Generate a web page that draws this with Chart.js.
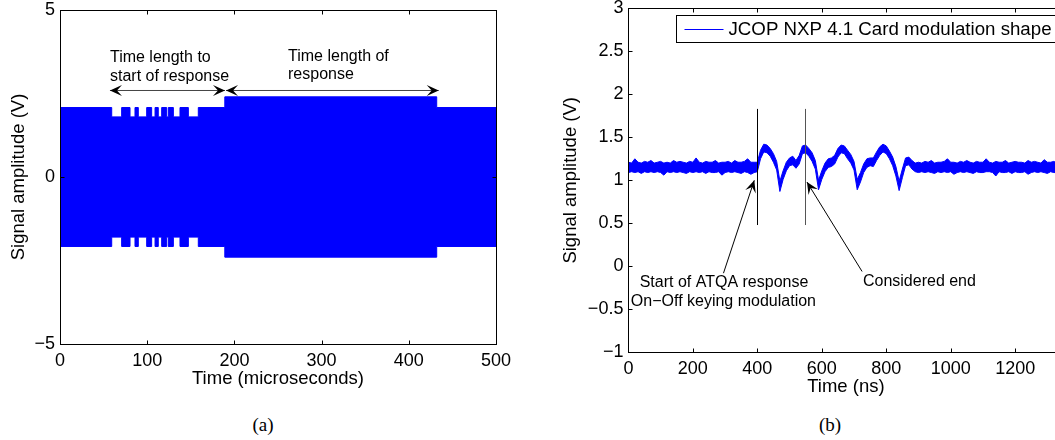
<!DOCTYPE html>
<html>
<head>
<meta charset="utf-8">
<script src="https://cdn.jsdelivr.net/npm/chart.js@4.4.1/dist/chart.umd.min.js"></script>
<style>
html, body { margin: 0; padding: 0; background: #fff; overflow: hidden; width: 1055px; height: 440px; }
#wrapA { position: absolute; left: 0; top: 0; width: 520px; height: 400px; }
#wrapB { position: absolute; left: 520px; top: 0; width: 560px; height: 400px; }
.caption { position: absolute; top: 414px; width: 60px; text-align: center;
           font-family: "Liberation Serif", "Times New Roman", serif; font-size: 19px; color: #000; }
</style>
</head>
<body>
<div id="wrapA"><canvas id="chartA"></canvas></div>
<div id="wrapB"><canvas id="chartB"></canvas></div>
<div class="caption" style="left:233px">(a)</div>
<div class="caption" style="left:800px">(b)</div>

<script>
const FONT = '"Liberation Sans", Arial, Helvetica, sans-serif';
Chart.defaults.font.family = FONT;
Chart.defaults.color = '#000';

// (a) envelope of the carrier, time in microseconds, amplitude in volts
const edgeTimesUs = [0, 59.3, 70.7, 80.3, 86, 89.8, 99.4, 105.1, 109, 112.7, 116.6, 122.3, 124.2, 130, 137.6, 147.2, 158.6, 189, 432, 500];
const upperEnvV   = [2.08, 1.8, 2.08, 1.8, 2.08, 1.8, 2.08, 1.8, 2.08, 1.8, 2.08, 1.8, 2.08, 1.8, 2.08, 1.8, 2.08, 2.4, 2.08, 2.08];
const lowerEnvV   = [-2.08, -1.8, -2.08, -1.8, -2.08, -1.8, -2.08, -1.8, -2.08, -1.8, -2.08, -1.8, -2.08, -1.8, -2.08, -1.8, -2.08, -2.4, -2.08, -2.08];
const xTicksA = [0, 100, 200, 300, 400, 500];
const yTicksA = [-5, 0, 5];

// (b) card modulation trace (min / max of the noisy trace), time in ns
const timeNs = [
  0, 10, 20, 30, 40, 50, 60, 70, 80, 90,
  100, 110, 120, 130, 140, 150, 160, 170, 180, 190,
  200, 210, 220, 230, 240, 250, 260, 270, 280, 290,
  300, 310, 320, 330, 340, 350, 360, 370, 380, 390,
  400, 410, 420, 430, 440, 450, 460, 470, 480, 490,
  500, 510, 520, 530, 540, 550, 560, 570, 580, 590,
  600, 610, 620, 630, 640, 650, 660, 670, 680, 690,
  700, 710, 720, 730, 740, 750, 760, 770, 780, 790,
  800, 810, 820, 830, 840, 850, 860, 870, 880, 890,
  900, 910, 920, 930, 940, 950, 960, 970, 980, 990,
  1000, 1010, 1020, 1030, 1040, 1050, 1060, 1070, 1080, 1090,
  1100, 1110, 1120, 1130, 1140, 1150, 1160, 1170, 1180, 1190,
  1200, 1210, 1220, 1230, 1240, 1250, 1260, 1270, 1280, 1290,
  1300, 1310, 1320, 1330, 1340, 1350
];
const traceUpperV = [
  1.21, 1.20, 1.25, 1.21, 1.20, 1.22, 1.21, 1.23, 1.20, 1.21,
  1.22, 1.20, 1.21, 1.20, 1.23, 1.21, 1.22, 1.21, 1.20, 1.22,
  1.21, 1.26, 1.21, 1.20, 1.22, 1.21, 1.21, 1.23, 1.20, 1.21,
  1.21, 1.22, 1.20, 1.23, 1.21, 1.21, 1.22, 1.25, 1.21, 1.21,
  1.21, 1.35, 1.42, 1.41, 1.37, 1.31, 1.22, 0.99, 1.11, 1.21,
  1.26, 1.28, 1.23, 1.29, 1.40, 1.41, 1.37, 1.32, 1.23, 1.00,
  1.11, 1.20, 1.25, 1.26, 1.29, 1.37, 1.41, 1.40, 1.35, 1.30,
  1.22, 1.01, 1.09, 1.19, 1.25, 1.26, 1.26, 1.33, 1.39, 1.42,
  1.40, 1.34, 1.27, 1.16, 0.99, 1.13, 1.26, 1.27, 1.23, 1.20,
  1.21, 1.20, 1.22, 1.21, 1.23, 1.20, 1.21, 1.21, 1.22, 1.25,
  1.21, 1.21, 1.20, 1.22, 1.21, 1.23, 1.21, 1.20, 1.22, 1.21,
  1.21, 1.25, 1.21, 1.20, 1.22, 1.21, 1.21, 1.23, 1.20, 1.21,
  1.22, 1.21, 1.21, 1.20, 1.23, 1.21, 1.22, 1.21, 1.20, 1.24,
  1.21, 1.21, 1.22, 1.20, 1.21, 1.21
];
const traceLowerV = [
  1.09, 1.10, 1.09, 1.10, 1.08, 1.10, 1.09, 1.10, 1.09, 1.10,
  1.09, 1.06, 1.10, 1.09, 1.10, 1.09, 1.10, 1.09, 1.08, 1.10,
  1.09, 1.10, 1.09, 1.10, 1.08, 1.10, 1.09, 1.09, 1.10, 1.06,
  1.09, 1.10, 1.09, 1.10, 1.09, 1.08, 1.10, 1.09, 1.07, 1.09,
  1.10, 1.25, 1.33, 1.32, 1.28, 1.21, 1.12, 0.87, 1.01, 1.11,
  1.17, 1.18, 1.14, 1.19, 1.31, 1.32, 1.28, 1.22, 1.13, 0.89,
  1.01, 1.10, 1.15, 1.16, 1.19, 1.27, 1.32, 1.31, 1.25, 1.20,
  1.12, 0.89, 0.98, 1.09, 1.15, 1.17, 1.16, 1.23, 1.29, 1.33,
  1.31, 1.25, 1.17, 1.05, 0.88, 1.03, 1.17, 1.18, 1.13, 1.10,
  1.09, 1.10, 1.09, 1.10, 1.09, 1.08, 1.10, 1.09, 1.10, 1.09,
  1.10, 1.07, 1.09, 1.10, 1.09, 1.10, 1.09, 1.08, 1.10, 1.09,
  1.09, 1.10, 1.10, 1.09, 1.05, 1.10, 1.09, 1.09, 1.10, 1.08,
  1.10, 1.09, 1.09, 1.10, 1.07, 1.09, 1.10, 1.09, 1.10, 1.09,
  1.08, 1.10, 1.09, 1.09, 1.10, 1.09
];
const xTicksB = [0, 200, 400, 600, 800, 1000, 1200];
const yTicksB = [-1, -0.5, 0, 0.5, 1, 1.5, 2, 2.5, 3];

const BLUE = '#0000ff';

// matlab style minus sign
function fmt(v) {
    return v < 0 ? '\u2212' + Math.abs(v) : String(v);
}

function toPoints(xs, ys) {
    return xs.map((x, i) => ({ x: x, y: ys[i] }));
}

// box around the axes with inward tick marks on all four sides
const matlabBox = {
    id: 'matlabBox',
    afterDatasetsDraw(chart) {
        const { ctx, chartArea: a, scales: { x, y } } = chart;
        const L = Math.round(a.left) + 0.5, R = Math.round(a.right) + 0.5;
        const T = Math.round(a.top) + 0.5, B = Math.round(a.bottom) + 0.5;
        ctx.save();
        ctx.strokeStyle = '#000';
        ctx.lineWidth = 1;
        ctx.strokeRect(L, T, R - L, B - T);
        ctx.beginPath();
        x.ticks.forEach(t => {
            const px = Math.round(x.getPixelForValue(t.value)) + 0.5;
            ctx.moveTo(px, B); ctx.lineTo(px, B - 4);
            ctx.moveTo(px, T); ctx.lineTo(px, T + 4);
        });
        y.ticks.forEach(t => {
            const py = Math.round(y.getPixelForValue(t.value)) + 0.5;
            ctx.moveTo(L, py); ctx.lineTo(L + 4, py);
            ctx.moveTo(R, py); ctx.lineTo(R - 4, py);
        });
        ctx.stroke();
        ctx.restore();
    }
};

function arrowHead(ctx, fx, fy, tx, ty) {
    const ang = Math.atan2(ty - fy, tx - fx);
    ctx.save();
    ctx.translate(tx, ty);
    ctx.rotate(ang);
    ctx.beginPath();
    ctx.moveTo(0, 0);
    ctx.lineTo(-12, -5.5);
    ctx.lineTo(-7, 0);
    ctx.lineTo(-12, 5.5);
    ctx.closePath();
    ctx.fill();
    ctx.restore();
}

// text labels, arrows and marker lines given in data coordinates
const notes = {
    id: 'notes',
    afterDraw(chart, args, opts) {
        const { ctx, scales: { x, y } } = chart;
        ctx.save();
        ctx.fillStyle = '#000';
        (opts.vlines || []).forEach(v => {
            const px = Math.round(x.getPixelForValue(v.x)) + 0.5;
            ctx.strokeStyle = v.color;
            ctx.lineWidth = 1;
            ctx.beginPath();
            ctx.moveTo(px, y.getPixelForValue(v.y1));
            ctx.lineTo(px, y.getPixelForValue(v.y2));
            ctx.stroke();
        });
        (opts.arrows || []).forEach(a => {
            const x1 = x.getPixelForValue(a.x1), y1 = y.getPixelForValue(a.y1);
            const x2 = x.getPixelForValue(a.x2), y2 = y.getPixelForValue(a.y2);
            ctx.strokeStyle = a.color || '#000';
            ctx.lineWidth = 1;
            ctx.beginPath();
            ctx.moveTo(x1, y1);
            ctx.lineTo(x2, y2);
            ctx.stroke();
            arrowHead(ctx, x1, y1, x2, y2);
            if (a.both) arrowHead(ctx, x2, y2, x1, y1);
        });
        ctx.font = '16px ' + FONT;
        ctx.textBaseline = 'middle';
        (opts.texts || []).forEach(t => {
            ctx.textAlign = t.align || 'left';
            ctx.fillText(t.text, x.getPixelForValue(t.x), y.getPixelForValue(t.y));
        });
        if (opts.legend) {
            // legend box runs past the right edge of the window, as in the original
            const left = 156.5, top = 15.5, bottom = 42.5, right = chart.width + 5;
            ctx.fillStyle = '#fff';
            ctx.fillRect(left, top, right - left, bottom - top);
            ctx.strokeStyle = '#000';
            ctx.lineWidth = 1;
            ctx.strokeRect(left, top, right - left, bottom - top);
            const mid = Math.round((top + bottom) / 2) + 0.5;
            ctx.strokeStyle = BLUE;
            ctx.beginPath();
            ctx.moveTo(left + 8, mid);
            ctx.lineTo(left + 47, mid);
            ctx.stroke();
            ctx.fillStyle = '#000';
            ctx.font = '18.7px ' + FONT;
            ctx.textAlign = 'left';
            ctx.fillText(chart.data.datasets[0].label, left + 52, mid);
        }
        ctx.restore();
    }
};

function axisX(min, max, ticks, title, titlePad, height) {
    return {
        type: 'linear', min: min, max: max,
        grid: { display: false, drawTicks: false },
        border: { display: false },
        ticks: { padding: 6, autoSkip: false, maxRotation: 0, font: { size: 18 }, callback: fmt },
        afterBuildTicks: s => { s.ticks = ticks.map(v => ({ value: v })); },
        afterFit: s => { s.height = height; s.paddingLeft = 0; s.paddingRight = 0; },
        title: { display: true, text: title, font: { size: 18.5 }, padding: { top: 0, bottom: titlePad } }
    };
}

function axisY(min, max, ticks, title, titlePad, width) {
    return {
        min: min, max: max,
        grid: { display: false, drawTicks: false },
        border: { display: false },
        ticks: { padding: 5, autoSkip: false, font: { size: 18 }, callback: fmt },
        afterBuildTicks: s => { s.ticks = ticks.map(v => ({ value: v })); },
        afterFit: s => { s.width = width; s.paddingTop = 0; s.paddingBottom = 0; },
        title: { display: true, text: title, font: { size: 18.5 }, padding: { top: titlePad, bottom: 0 } }
    };
}

// Chart (a)
new Chart(document.getElementById('chartA'), {
    type: 'line',
    data: {
        datasets: [{
            label: 'Upper envelope',
            data: toPoints(edgeTimesUs, upperEnvV),
            stepped: true,
            fill: '+1',
            borderColor: BLUE,
            backgroundColor: BLUE,
            borderWidth: 1,
            pointRadius: 0
        }, {
            label: 'Lower envelope',
            data: toPoints(edgeTimesUs, lowerEnvV),
            stepped: true,
            fill: false,
            borderColor: BLUE,
            borderWidth: 1,
            pointRadius: 0
        }]
    },
    options: {
        responsive: true,
        maintainAspectRatio: false,
        animation: false,
        layout: { padding: { left: 0, top: 10, right: 24, bottom: 0 } },
        plugins: {
            legend: { display: false },
            tooltip: { enabled: false },
            notes: {
                texts: [
                    { x: 57.3, y: 3.58, text: 'Time length to' },
                    { x: 57.3, y: 3.01, text: 'start of response' },
                    { x: 261.5, y: 3.61, text: 'Time length of' },
                    { x: 261.5, y: 3.07, text: 'response' }
                ],
                arrows: [
                    { x1: 57.3, y1: 2.59, x2: 189.2, y2: 2.59, both: true, color: '#444' },
                    { x1: 190.4, y1: 2.59, x2: 434.3, y2: 2.59, both: true, color: '#444' }
                ]
            }
        },
        scales: {
            x: axisX(0, 500, xTicksA, 'Time (microseconds)', 10, 56),
            y: axisY(-5, 5, yTicksA, 'Signal amplitude (V)', 7.5, 60)
        }
    },
    plugins: [matlabBox, notes]
});

// Chart (b)
new Chart(document.getElementById('chartB'), {
    type: 'line',
    data: {
        datasets: [{
            label: 'JCOP NXP 4.1 Card modulation shape',
            data: toPoints(timeNs, traceUpperV),
            fill: '+1',
            borderColor: BLUE,
            backgroundColor: BLUE,
            borderWidth: 1,
            pointRadius: 0,
            tension: 0
        }, {
            label: 'trace minimum',
            data: toPoints(timeNs, traceLowerV),
            fill: false,
            borderColor: BLUE,
            borderWidth: 1,
            pointRadius: 0,
            tension: 0
        }]
    },
    options: {
        responsive: true,
        maintainAspectRatio: false,
        animation: false,
        layout: { padding: { left: 0, top: 8.3, right: 16.5, bottom: 0 } },
        plugins: {
            legend: { display: false },
            tooltip: { enabled: false },
            notes: {
                legend: true,
                vlines: [
                    { x: 400, y1: 0.48, y2: 1.83, color: '#000' },
                    { x: 547, y1: 0.48, y2: 1.83, color: '#555' }
                ],
                arrows: [
                    { x1: 295, y1: -0.08, x2: 390.6, y2: 1.0 },
                    { x1: 725, y1: -0.06, x2: 554, y2: 0.98 }
                ],
                texts: [
                    { x: 296.6, y: -0.19, text: 'Start of ATQA response', align: 'center' },
                    { x: 294.8, y: -0.41, text: 'On\u2212Off keying modulation', align: 'center' },
                    { x: 903, y: -0.18, text: 'Considered end', align: 'center' }
                ]
            }
        },
        scales: {
            x: axisX(0, 1350, xTicksB, 'Time (ns)', 1.5, 47.7),
            y: axisY(-1, 3, yTicksB, 'Signal amplitude (V)', 40, 108.4)
        }
    },
    plugins: [matlabBox, notes]
});
</script>
</body>
</html>
